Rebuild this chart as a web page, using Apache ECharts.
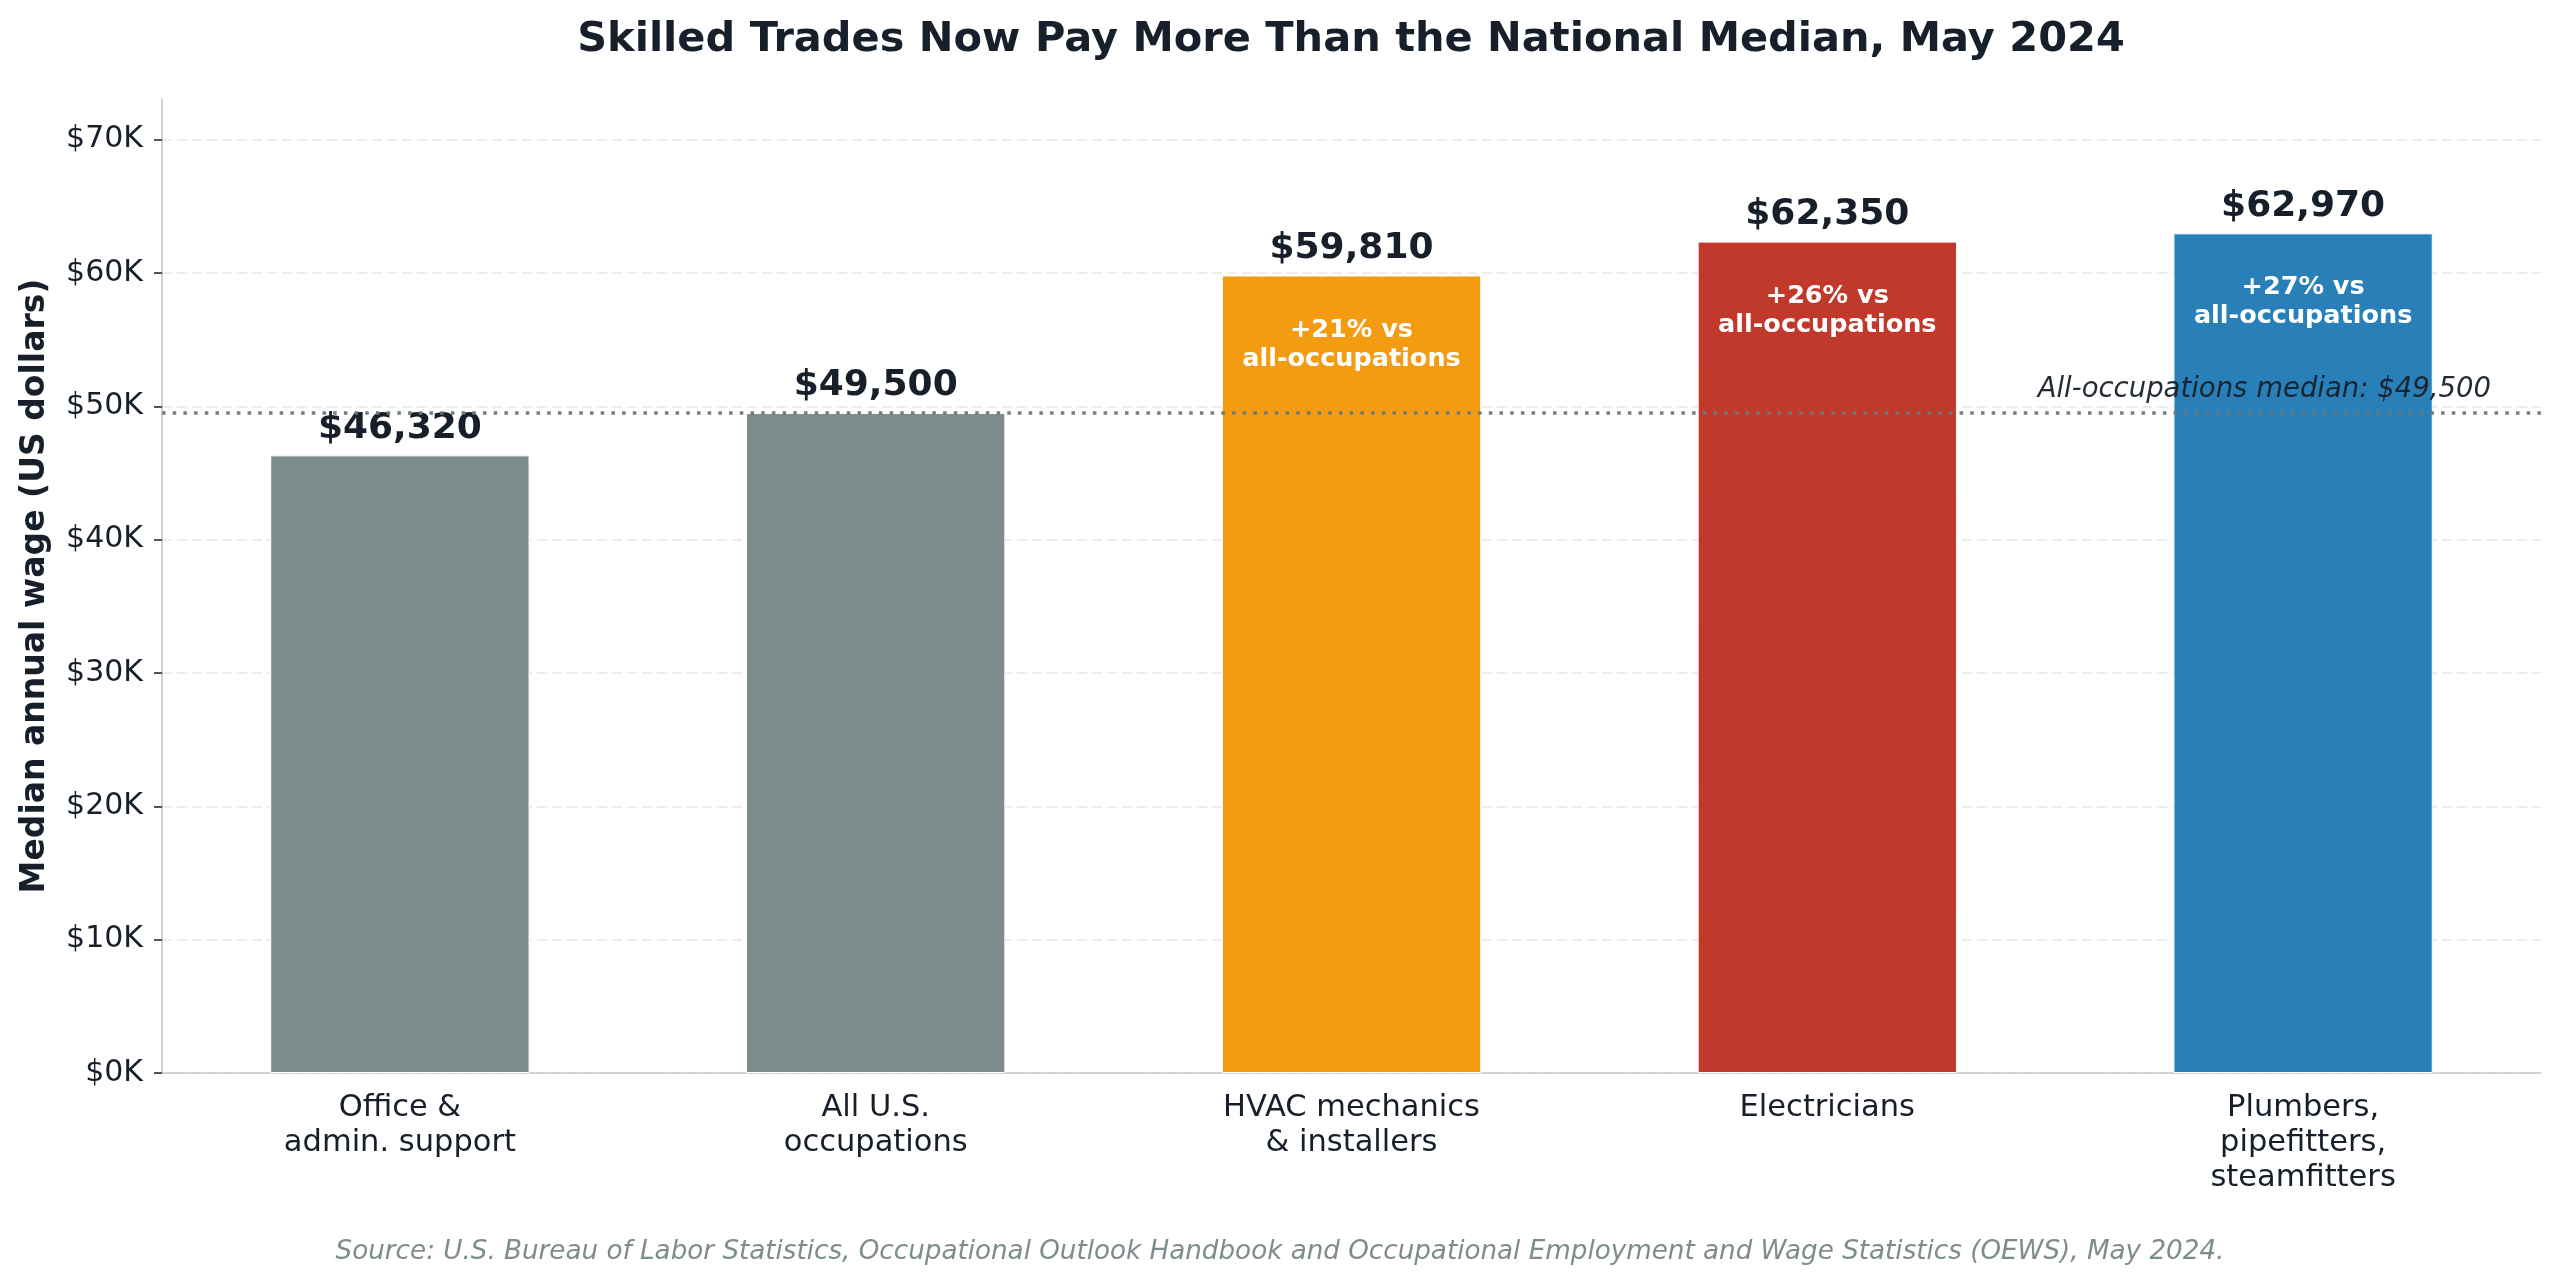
<!DOCTYPE html>
<html>
<head>
<meta charset="utf-8">
<script src="https://cdn.jsdelivr.net/npm/echarts@6/dist/echarts.min.js"></script>
<style>
  html, body { margin: 0; padding: 0; background: #fff; }
  #chart { width: 2560px; height: 1283px; }
</style>
</head>
<body>
<div id="chart"></div>
<script>
  // data
  const categories = ['Office &\nadmin. support', 'All U.S.\noccupations', 'HVAC mechanics\n& installers', 'Electricians', 'Plumbers,\npipefitters,\nsteamfitters'];
  const wages = [46320, 49500, 59810, 62350, 62970];
  const allOccupationsMedian = 49500;
  const showDiff = [false, false, true, true, true];
  const yTicks = [0, 10000, 20000, 30000, 40000, 50000, 60000, 70000];
  const barColors = ['#7f8c8d', '#7f8c8d', '#f39c12', '#c0392b', '#2980b9'];

  const dark = '#17202a';
  const font = 'DejaVu Sans';

  let chart = echarts.init(document.getElementById('chart'));
  chart.setOption({
    backgroundColor: '#fff',
    animation: false,
    textStyle: { fontFamily: font },
    grid: { left: 162, right: 19, top: 99, bottom: 210 },
    graphic: [
      {
        type: 'text',
        x: 1351, y: 40,
        style: {
          text: 'Skilled Trades Now Pay More Than the National Median, May 2024',
          fontFamily: font, fontSize: 41.5, fontWeight: 'bold', fill: dark,
          align: 'center', verticalAlign: 'middle'
        }
      },
      {
        type: 'text',
        x: 1280, y: 1252,
        style: {
          text: 'Source: U.S. Bureau of Labor Statistics, Occupational Outlook Handbook and Occupational Employment and Wage Statistics (OEWS), May 2024.',
          fontFamily: font, fontSize: 26.2, fontStyle: 'italic', fill: '#7f8c8d',
          align: 'center', verticalAlign: 'middle'
        }
      }
    ],
    xAxis: {
      type: 'category',
      data: categories,
      axisLine: { lineStyle: { color: '#c8c8c8', width: 1.6 } },
      axisTick: { alignWithLabel: true, length: 8, lineStyle: { color: dark, width: 1.5 } },
      axisLabel: { color: dark, fontSize: 30.5, lineHeight: 35, margin: 18, interval: 0 },
      splitLine: { show: false }
    },
    yAxis: {
      type: 'value',
      min: 0,
      max: Math.max(...wages) * 1.16,
      name: 'Median annual wage (US dollars)',
      nameLocation: 'middle',
      nameGap: 110,
      nameTextStyle: { color: dark, fontSize: 33, fontWeight: 'bold' },
      axisLine: { show: true, lineStyle: { color: '#c8c8c8', width: 1.6 } },
      axisTick: { show: true, length: 8, customValues: yTicks, lineStyle: { color: dark, width: 1.5 } },
      axisLabel: {
        customValues: yTicks,
        color: dark, fontSize: 30, margin: 19,
        formatter: v => '$' + Math.round(v / 1000) + 'K'
      },
      splitLine: { show: true, lineStyle: { color: '#e5e7e9', width: 1.5, type: [10, 5] } }
    },
    series: [
      {
        name: 'wage',
        type: 'bar',
        barWidth: '54.5%',
        data: wages.map((v, i) => ({ value: v, itemStyle: { color: barColors[i] } })),
        itemStyle: { borderColor: '#fff', borderWidth: 1 },
        label: {
          show: true,
          position: 'top',
          distance: 9,
          color: dark,
          fontSize: 36,
          fontWeight: 'bold',
          formatter: p => '$' + p.value.toLocaleString('en-US')
        },
        markLine: {
          silent: true,
          symbol: ['none', 'none'],
          data: [{ yAxis: allOccupationsMedian }],
          lineStyle: { color: '#6c7778', width: 3.5, type: [3.5, 7.2], opacity: 0.95 },
          label: {
            show: true,
            position: 'insideEndTop',
            distance: [50, 10],
            color: dark,
            fontSize: 27.5,
            fontStyle: 'italic',
            formatter: 'All-occupations median: $' + allOccupationsMedian.toLocaleString('en-US')
          }
        }
      },
      {
        name: 'diff',
        type: 'bar',
        barWidth: '54.5%',
        barGap: '-100%',
        silent: true,
        data: wages,
        itemStyle: { color: 'transparent' },
        label: {
          show: true,
          position: 'insideTop',
          distance: 40,
          color: '#fff',
          fontSize: 25.5,
          lineHeight: 29,
          fontWeight: 'bold',
          align: 'center',
          formatter: p => showDiff[p.dataIndex]
            ? '+' + Math.round((p.value / allOccupationsMedian - 1) * 100) + '% vs\nall-occupations'
            : ''
        }
      }
    ]
  });
</script>
</body>
</html>
